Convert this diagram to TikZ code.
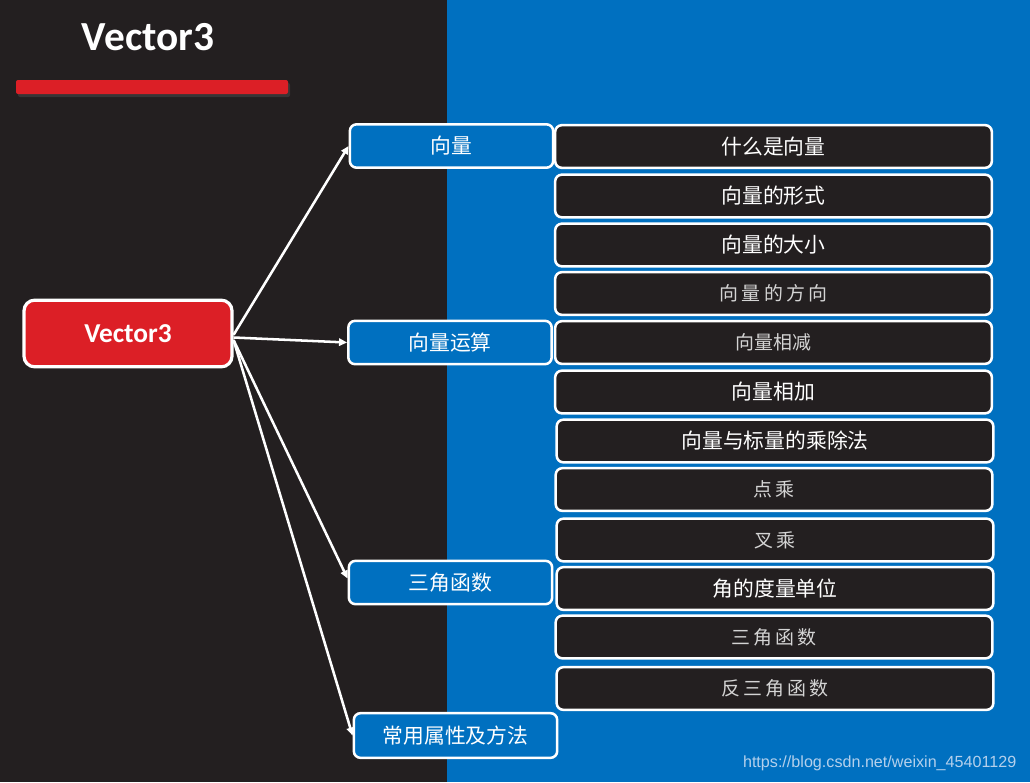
\documentclass[tikz,border=0pt]{standalone}
\usepackage{fontspec}
\setmainfont{Carlito}
\newfontfamily\cjk{Noto Sans CJK SC}
\newfontfamily\wm{Liberation Sans}
\usetikzlibrary{arrows.meta}
\definecolor{darkbg}{HTML}{231F20}
\definecolor{bluebg}{HTML}{0070C0}
\definecolor{redc}{HTML}{DC1F26}
\definecolor{lighttxt}{HTML}{D4D4D4}
\definecolor{wmc}{HTML}{B4D0EC}
\tikzset{
  rootbox/.style={draw=white, line width=2.4pt, fill=redc, rounded corners=8pt,
    minimum width=156pt, minimum height=50pt, inner sep=0pt, text=white,
    font=\fontsize{20.5}{24}\selectfont\bfseries},
  midbox/.style={draw=white, line width=1.9pt, fill=bluebg, rounded corners=5pt,
    minimum width=152.5pt, minimum height=32.5pt, inner sep=0pt, text=white,
    font=\cjk\fontsize{15.6}{18}\selectfont},
  itembox/.style={draw=white, line width=1.9pt, fill=darkbg, rounded corners=5pt,
    minimum width=327.5pt, minimum height=32pt, inner sep=0pt, text=white,
    font=\cjk\fontsize{15.6}{18}\selectfont},
  lightitem/.style={itembox, text=lighttxt, font=\cjk\fontsize{14.2}{18}\selectfont},
  arr/.style={draw=white, line width=1.9pt, -{Triangle[width=5.5pt,length=6pt]}}
}
\begin{document}
\begin{tikzpicture}[x=0.75pt,y=-0.75pt]
\useasboundingbox (0,0) rectangle (1030,782);
\fill[darkbg] (0,0) rectangle (447,782);
\fill[bluebg] (447,0) rectangle (1030,782);
% title
\node[text=white, font=\fontsize{31}{36}\selectfont\bfseries] (title) at (148,37) {Vector3};
\fill[black!70, opacity=0.5, rounded corners=1.5pt] (18,83) rectangle (290,97);
\fill[redc, rounded corners=1.5pt] (16,80) rectangle (288,94);
% root
\node[rootbox] (root) at (128,333.5) {Vector3};
% middle nodes
\node[midbox] (m1) at (451.5,146) {向量};
\node[midbox] (m2) at (450,342.5) {向量运算};
\node[midbox] (m3) at (450.5,582.5) {三角函数};
\node[midbox, minimum height=33.5pt] (m4) at (455.5,735.5) {常用属性及方法};
% right items
\node[itembox] (i1) at (773.5,146.5) {什么是向量};
\node[itembox] (i2) at (773.5,196) {向量的形式};
\node[itembox] (i3) at (773.5,245) {向量的大小};
\node[lightitem] (i4) at (773.5,293.5) {向\,量\,的\,方\,向};
\node[lightitem] (i5) at (773.5,342.5) {向量相减};
\node[itembox] (i6) at (773.5,392) {向量相加};
\node[itembox] (i7) at (775,441) {向量与标量的乘除法};
\node[lightitem] (i8) at (774,489.5) {点\,乘};
\node[lightitem] (i9) at (775,540) {叉\,乘};
\node[itembox] (i10) at (775,588.5) {角的度量单位};
\node[lightitem] (i11) at (774,637) {三\,角\,函\,数};
\node[lightitem] (i12) at (775,688.5) {反\,三\,角\,函\,数};
% arrows
\draw[arr] ([yshift=-1pt]root.east) -- (m1.west);
\draw[arr] ([yshift=-3pt]root.east) -- (m2.west);
\draw[arr] ([yshift=-5pt]root.east) -- ([yshift=3pt]m3.west);
\draw[arr] ([yshift=-5pt]root.east) -- (m4.west);
% watermark
\node[text=wmc, font=\wm\fontsize{12.1}{14}\selectfont, anchor=east] (wm) at (1021,763) {https://blog.csdn.net/weixin\_45401129};
\end{tikzpicture}
\end{document}
